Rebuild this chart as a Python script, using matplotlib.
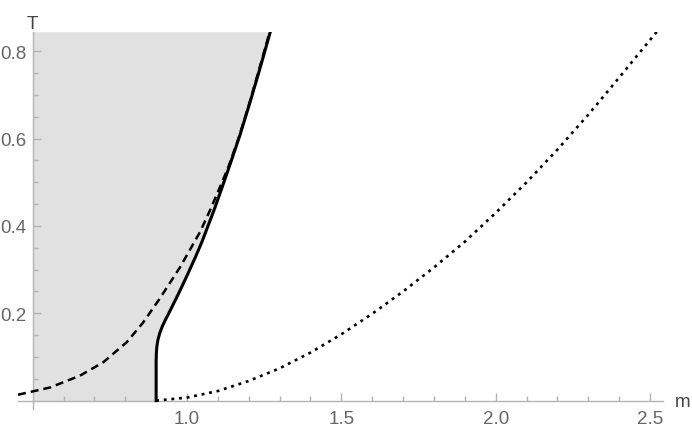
import matplotlib
matplotlib.use("Agg")
import matplotlib.pyplot as plt
import numpy as np

# solid curve (m as function of T)
solid_T = [0.0, 0.09, 0.11, 0.125, 0.14, 0.155, 0.17, 0.185, 0.20, 0.22, 0.24, 0.265,
           0.294, 0.33, 0.363, 0.40, 0.439, 0.485, 0.538, 0.607, 0.683, 0.76, 0.845]
solid_m = [0.9, 0.9, 0.9008, 0.9025, 0.906, 0.912, 0.920, 0.930, 0.941, 0.955, 0.969, 0.986,
           1.005, 1.028, 1.048, 1.068, 1.089, 1.112, 1.138, 1.171, 1.204, 1.236, 1.270]

# dashed curve
dash_m = [0.4525, 0.556, 0.653, 0.729, 0.805, 0.858, 0.91, 0.977, 1.042, 1.074,
          1.105, 1.135, 1.168, 1.2, 1.233, 1.268]
dash_T = [0.0135, 0.030, 0.057, 0.088, 0.134, 0.179, 0.232, 0.305, 0.386, 0.435,
          0.486, 0.537, 0.603, 0.676, 0.757, 0.845]

# dotted curve
dot_m = [0.9, 1.0, 1.1, 1.2, 1.3, 1.4, 1.5, 1.6, 1.7, 1.8, 1.9, 2.0,
         2.1, 2.2, 2.3, 2.4, 2.522]
dot_T = [0.0, 0.007, 0.022, 0.045, 0.074, 0.11, 0.152, 0.199, 0.25, 0.305, 0.364, 0.43,
         0.50, 0.575, 0.655, 0.74, 0.845]

x_major = [1.0, 1.5, 2.0, 2.5]
y_major = [0.2, 0.4, 0.6, 0.8]

plt.rcParams['font.family'] = ['Liberation Sans', 'DejaVu Sans']

fig = plt.figure(figsize=(6.92, 4.27), dpi=100)
ax = fig.add_axes([18 / 692, 17 / 427, 644.7 / 692, 377.3 / 427])

ax.fill_betweenx(solid_T, 0.5, solid_m, color='#e1e1e1', lw=0, zorder=1)
ax.plot(solid_m, solid_T, color='black', lw=2.2, zorder=4)
ax.plot(dash_m, dash_T, color='black', lw=1.8, ls=(0, (3.2, 2.0)), zorder=3)
ax.plot(dot_m, dot_T, color='black', lw=1.9, ls=(0, (1.1, 1.8)), zorder=3)

ax.set_xlim(0.4525, 2.541)
ax.set_ylim(-0.0192, 0.845)

axis_col = '#b3b3b3'
for s in ['top', 'right']:
    ax.spines[s].set_visible(False)
ax.spines['left'].set_position(('data', 0.5))
ax.spines['bottom'].set_position(('data', 0.0))
for s in ['left', 'bottom']:
    ax.spines[s].set_color(axis_col)
    ax.spines[s].set_linewidth(1.0)
    ax.spines[s].set_zorder(2)

ax.set_xticks(x_major)
ax.set_xticklabels(['1.0', '1.5', '2.0', '2.5'])
ax.set_xticks(np.arange(0.6, 2.55, 0.1), minor=True)
ax.set_yticks(y_major)
ax.set_yticklabels(['0.2', '0.4', '0.6', '0.8'])
ax.set_yticks(np.arange(0.05, 0.84, 0.05), minor=True)

ax.tick_params(which='both', direction='in', color=axis_col, width=1.0,
               labelcolor='#666666', labelsize=13.5)
ax.tick_params(which='major', length=5.5)
ax.tick_params(which='minor', length=3.5)
ax.tick_params(axis='x', which='major', pad=6.5)
ax.tick_params(axis='y', which='major', pad=4.5)

ax.text(0.5, 0.845, 'T', transform=ax.transData, ha='center', va='bottom',
        fontsize=13.5, color='#444444')
fig.text(683 / 692, 1 - 403 / 427, 'm', ha='center', va='center',
         fontsize=13.5, color='#444444')
ax.patch.set_visible(False)

fig.savefig('out.png', dpi=100)
